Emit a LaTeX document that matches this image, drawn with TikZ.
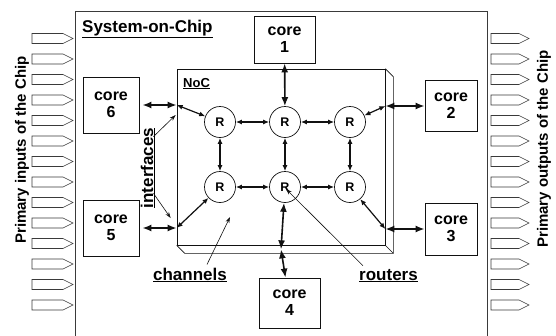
\documentclass[tikz,border=0pt]{standalone}
\usepackage{fontspec}
\setmainfont{Liberation Sans}
\usetikzlibrary{arrows.meta,positioning,calc}
\definecolor{ink}{HTML}{111111}
\definecolor{wire}{HTML}{3A3A3A}
\tikzset{
  core/.style={draw=ink,fill=white,line width=0.8pt,
               minimum width=55pt,minimum height=54pt,inner sep=0pt,
               align=center,font=\fontsize{16}{17}\selectfont\bfseries},
  router/.style={circle,draw=ink,fill=white,line width=0.7pt,
                 minimum size=31pt,inner sep=0pt,
                 font=\fontsize{12.5}{13}\selectfont\bfseries},
  nocbox/.style={draw=ink,fill=white,line width=0.7pt,
                 minimum width=208pt,minimum height=176pt,inner sep=0pt},
  tag/.style={inner sep=0pt,font=\fontsize{17}{18}\selectfont\bfseries},
  sidetag/.style={inner sep=0pt,rotate=90,font=\fontsize{15}{16}\selectfont\bfseries},
  link/.style={{Latex[length=6pt,width=5pt]}-{Latex[length=6pt,width=5pt]},
               line width=1.2pt,draw=ink},
  port/.style={{Latex[length=9pt,width=7pt]}-{Latex[length=9pt,width=7pt]},
               line width=1.6pt,draw=ink},
  pointer/.style={-{Stealth[length=6pt,width=4pt]},line width=0.6pt,draw=ink},
  iopin/.style={draw=wire,fill=white,line width=0.6pt},
  chipline/.style={draw=wire,line width=0.8pt}
}

\begin{document}
\begin{tikzpicture}[x=1pt,y=-1pt]
  \path[use as bounding box] (0,0) rectangle (556,335);

  % chip outline and its pins
  \draw[chipline] (75,336) -- (75,11) -- (487,11) -- (487,336);
  \foreach \k [evaluate=\k as \y using 38.5+20.5*\k] in {0,...,13} {
    \draw[iopin] (32,\y-5) -- (63,\y-5) -- (73,\y) -- (63,\y+5) -- (32,\y+5) -- cycle;
    \draw[iopin] (491,\y-5) -- (519,\y-5) -- (529,\y) -- (519,\y+5) -- (491,\y+5) -- cycle;
  }
  \node[sidetag] (in-lbl) at (22,150) {Primary inputs of the Chip};
  \node[sidetag] (out-lbl) at (544,149) {Primary outputs of the Chip};
  \node[tag,anchor=base west] (soc-lbl) at (82,32) {\underline{System-on-Chip}};

  % network on chip, drawn as a slab
  \node[nocbox] (noc) at (281,157) {};
  \draw[ink,line width=0.7pt] (noc.north east) -- ++(8,8) |- ($(noc.south west)+(8,8)$)
    -- (noc.south west);
  \draw[ink,line width=0.7pt] (noc.south east) -- ++(8,8);
  \node[tag,font=\fontsize{13}{14}\selectfont\bfseries,anchor=base west]
    (noc-lbl) at (183,87) {\underline{NoC}};

  % routers
  \node[router] (r11) at (220,122) {R};
  \node[router] (r12) at (285,122) {R};
  \node[router] (r13) at (350,122) {R};
  \node[router] (r21) at (220,187) {R};
  \node[router] (r22) at (285,187) {R};
  \node[router] (r23) at (350,187) {R};

  % cores
  \node[core,minimum width=61pt,minimum height=47pt] (c1) at (284.5,39.5) {core\\1};
  \node[core,minimum width=52pt,minimum height=51pt] (c2) at (451,106) {core\\2};
  \node[core,minimum width=52pt,minimum height=52pt] (c3) at (451,229) {core\\3};
  \node[core,minimum width=61pt,minimum height=50pt] (c4) at (289.5,303) {core\\4};
  \node[core,minimum width=56pt,minimum height=56pt] (c5) at (111,228) {core\\5};
  \node[core,minimum width=56pt,minimum height=56pt] (c6) at (111,105) {core\\6};

  % interface points on the NoC border
  \coordinate (if6) at (noc.west |- c6);
  \coordinate (if5) at (noc.west |- c5);
  \coordinate (if2) at (noc.east |- c2);
  \coordinate (if3) at (noc.east |- c3);
  \coordinate (if4) at ($(noc.south)+(0,4)$);

  % channels between routers
  \draw[link] (r11) -- (r12);
  \draw[link] (r12) -- (r13);
  \draw[link] (r21) -- (r22);
  \draw[link] (r22) -- (r23);
  \draw[link] (r11) -- (r21);
  \draw[link] (r12) -- (r22);
  \draw[link] (r13) -- (r23);
  \draw[link] (if6) -- (r11);
  \draw[link] (if5) -- (r21);
  \draw[link] (r13) -- (if2);
  \draw[link] (r23) -- (if3);
  \draw[port] (r22) -- (if4);

  % core connections
  \draw[port] (c1) -- (r12);
  \draw[port,shorten <=3pt] (c6) -- (if6);
  \draw[port,shorten <=3pt] (c5) -- (if5);
  \draw[port] (if2) -- (c2);
  \draw[port] (if3) -- (c3);
  \draw[port] (if4) -- (c4);

  % annotations
  \node[tag,rotate=90] (ifc-lbl) at (148,168) {\underline{interfaces}};
  \draw[pointer] ($(ifc-lbl.south east)+(-2,9)$) -- ($(if6)+(-1,10)$);
  \draw[pointer] ($(ifc-lbl.south west)+(-2,-15)$) -- ($(if5)+(-6,-10)$);

  \coordinate (chan) at (230,217);
  \node[tag,anchor=base] (chn-lbl) at (190,280) {\underline{channels}};
  \draw[pointer] ($(chn-lbl.north)+(17,-3)$) -- (chan);

  \node[tag,anchor=base] (rtr-lbl) at (388.5,280) {\underline{routers}};
  \draw[pointer] ($(rtr-lbl.north west)+(4,-3)$) -- ([shift={(1,2)}]r22.center);
\end{tikzpicture}
\end{document}
